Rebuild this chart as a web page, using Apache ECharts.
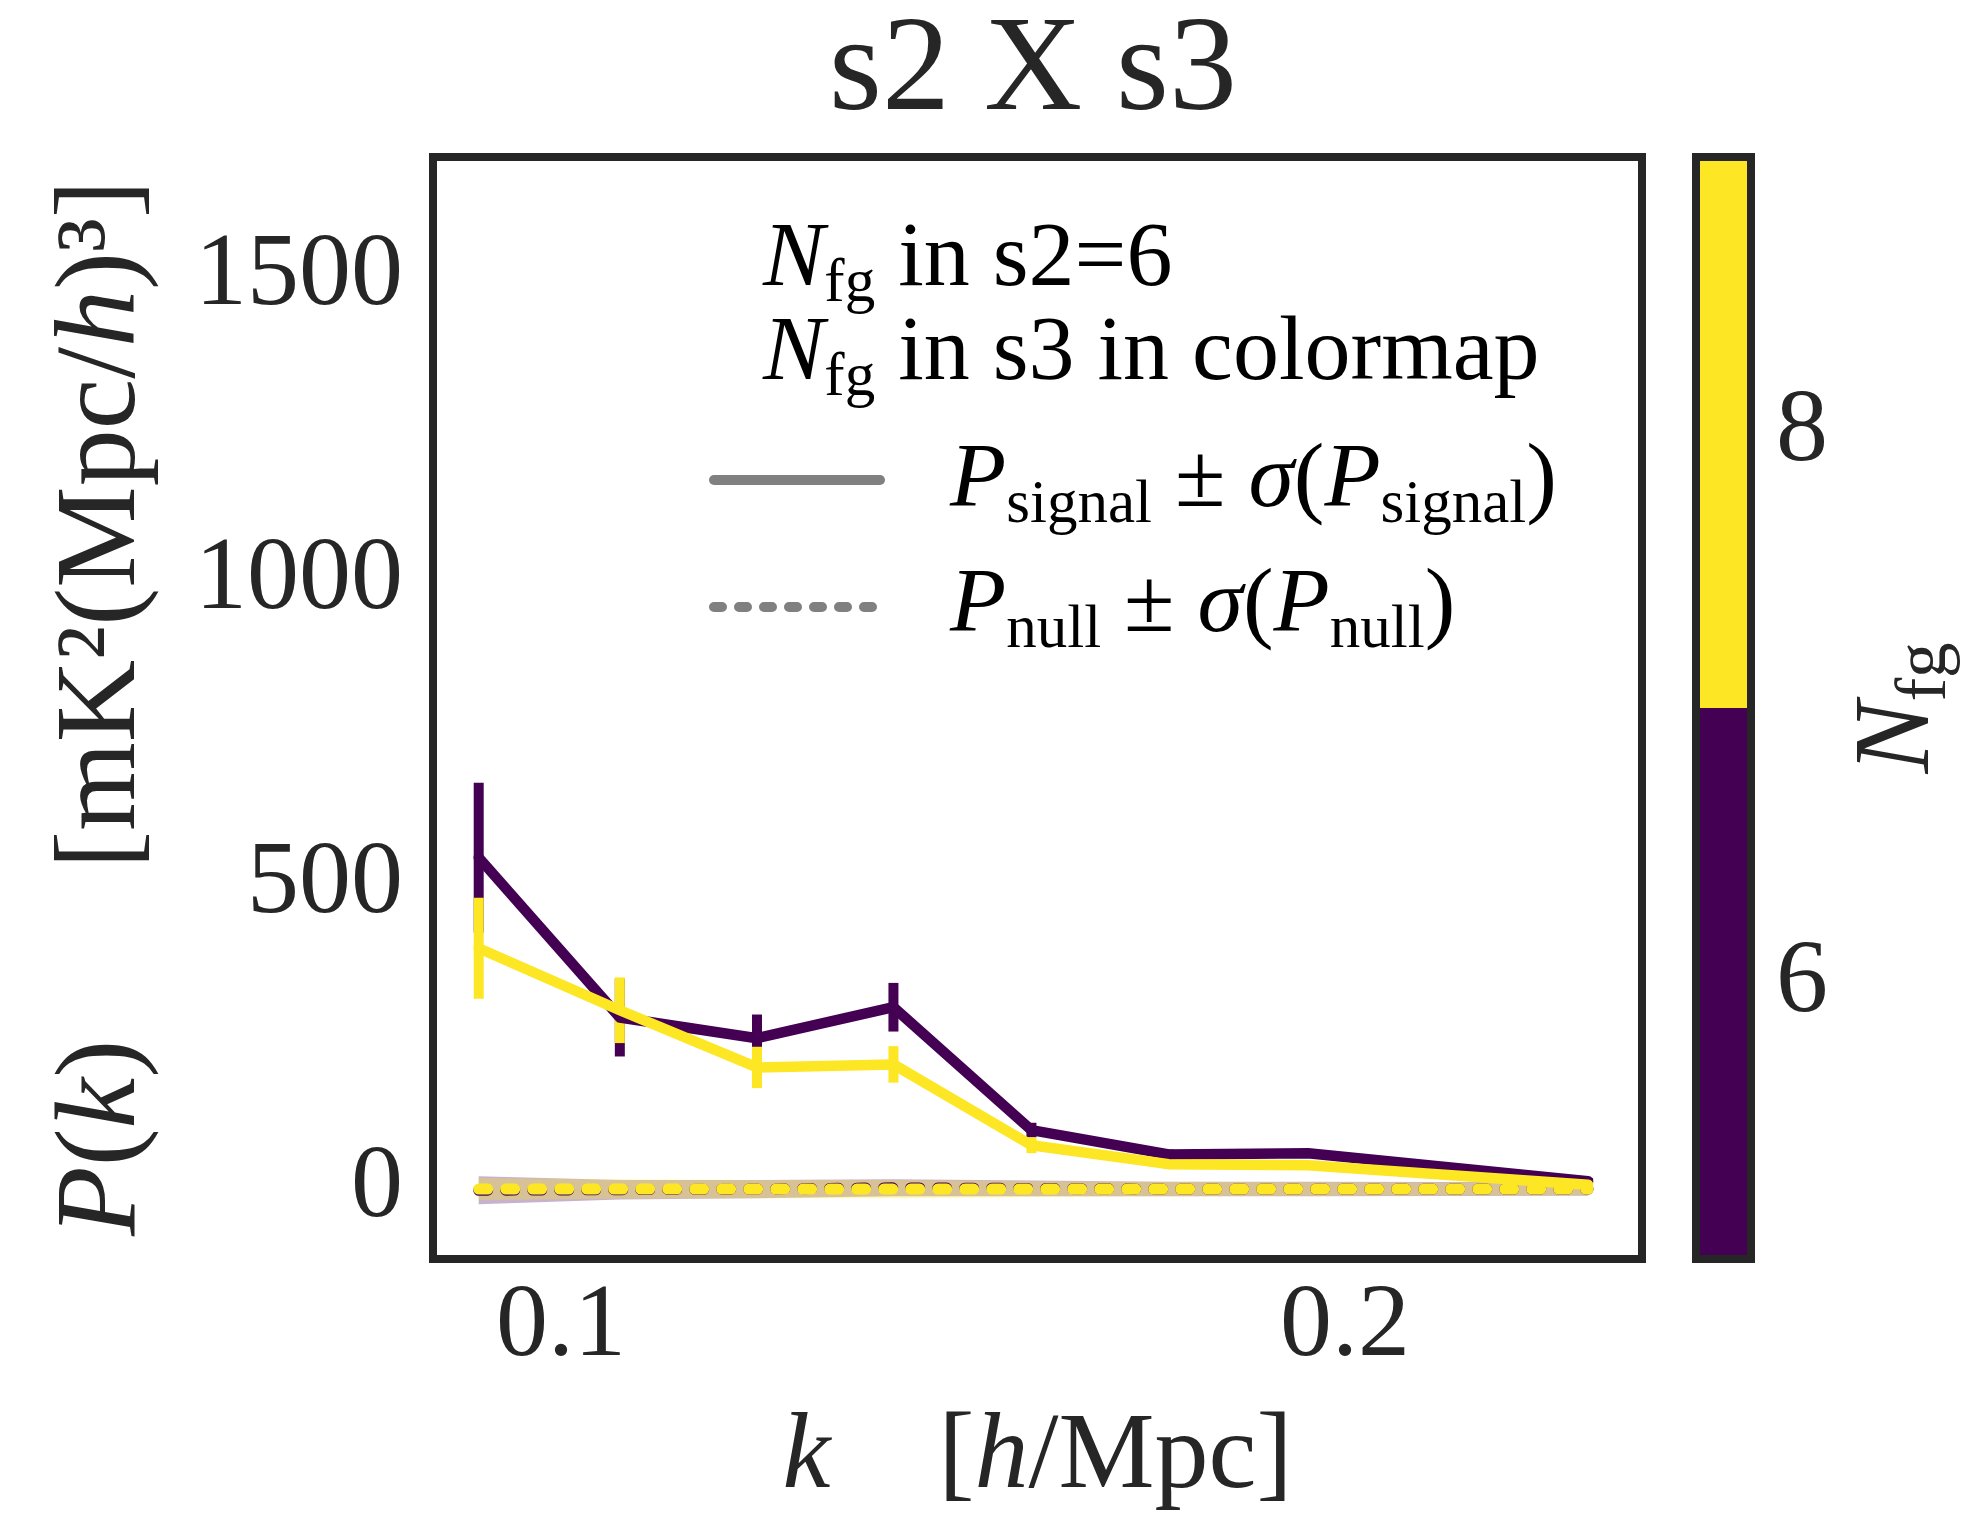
<!DOCTYPE html>
<html><head><meta charset="utf-8">
<script src="https://cdn.jsdelivr.net/npm/echarts@6/dist/echarts.min.js"></script>
<style>html,body{margin:0;padding:0;background:#fff}#c{width:1972px;height:1521px}</style>
</head><body><div id="c"></div>
<script>
// ---- data ----
const kValues      = [0.0895, 0.1075, 0.1250, 0.1424, 0.1600, 0.1775, 0.1953, 0.2310];
const signalN6     = [545, 282, 248, 299, 97, 57, 59, 13];
const sigmaSigN6   = [123, 64, 39, 40, 12, 8, 7, 5];
const signalN8     = [396, 294, 200, 205, 72, 41, 39, 7];
const sigmaSigN8   = [83, 54, 34, 30, 13, 8, 7, 5];
const nullN6       = [-2, -1, 0, 2, 1, 0, 0, 0];
const sigmaNullN6  = [23, 16, 15, 14, 13, 12, 12, 11];
const nullN8       = [0, 0, 0, 0, 0, 0, 0, 0];
const sigmaNullN8  = [18, 16, 15, 15, 13, 12, 11, 10];
const xTickValues  = [0.1, 0.2];
const yTickValues  = [0, 500, 1000, 1500];
const cbarBounds   = [5, 7, 9];
const cbarTicks    = [6, 8];

// ---- styling ----
const C6 = '#440154', C8 = '#fde725', TXT = '#262626', GRAY = '#808080';
const FAM = 'Liberation Serif';

function rich(F) {
  return {
    n: {fontFamily: FAM, fontSize: F, lineHeight: F, verticalAlign: 'top', color: TXT},
    i: {fontFamily: FAM, fontSize: F, lineHeight: F, verticalAlign: 'top', fontStyle: 'italic', color: TXT},
    s: {fontFamily: FAM, fontSize: Math.round(0.66 * F), lineHeight: Math.round(0.66 * F),
        padding: [Math.round(0.42 * F), 0, 0, 0], verticalAlign: 'top', color: TXT}
  };
}

const pts = (ys) => kValues.map((k, i) => [k, ys[i]]);
const rangeData = (v, e) => kValues.map((k, i) => [k, v[i] - e[i], v[i] + e[i]]);

function errSeries(v, e, color) {
  return {
    type: 'custom', xAxisIndex: 0, yAxisIndex: 0, silent: true,
    data: rangeData(v, e), encode: {x: 0, y: [1, 2]},
    renderItem: function (params, api) {
      const a = api.coord([api.value(0), api.value(1)]);
      const b = api.coord([api.value(0), api.value(2)]);
      return {type: 'line', shape: {x1: a[0], y1: a[1], x2: b[0], y2: b[1]},
              style: {stroke: color, lineWidth: 10, lineCap: 'butt'}};
    }
  };
}
function lineSeries(v, color) {
  return {type: 'line', data: pts(v), showSymbol: false, symbol: 'none', silent: true,
          lineStyle: {color: color, width: 10.5, cap: 'round', join: 'round'}};
}
function bandSeries(v, e, fill) {
  return {
    type: 'custom', xAxisIndex: 0, yAxisIndex: 0, silent: true,
    data: rangeData(v, e), encode: {x: 0, y: [1, 2]},
    renderItem: function (params, api) {
      if (params.dataIndexInside !== 0) return null;
      const n = params.dataInsideLength;
      const upper = [], lower = [];
      for (let j = 0; j < n; j++) {
        upper.push(api.coord([api.value(0, j), api.value(2, j)]));
        lower.push(api.coord([api.value(0, j), api.value(1, j)]));
      }
      return {type: 'polygon', shape: {points: upper.concat(lower.reverse())},
              style: {fill: fill}};
    }
  };
}
function nullSeries(v, color) {
  return {type: 'line', data: pts(v), symbol: 'none', silent: true,
          lineStyle: {color: color, width: 11, type: [9, 18], cap: 'round', join: 'round'}};
}

const cbarColors = [C6, C8];
const cbarData = cbarColors.map((c, i) => [cbarBounds[i], cbarBounds[i + 1], i]);

const chart = echarts.init(document.getElementById('c'), null, {renderer: 'canvas'});
chart.setOption({
  animation: false,
  backgroundColor: '#ffffff',
  grid: [
    {left: 433, top: 157, width: 1209, height: 1102, show: true, borderWidth: 8,
     borderColor: TXT, backgroundColor: 'transparent', outerBoundsMode: 'none', containLabel: false},
    {left: 1696, top: 157, width: 55, height: 1102, show: true, borderWidth: 8,
     borderColor: TXT, backgroundColor: 'transparent', outerBoundsMode: 'none', containLabel: false}
  ],
  xAxis: [
    {type: 'value', gridIndex: 0, min: 0.08367, max: 0.23788,
     axisLine: {show: false}, axisTick: {show: false}, splitLine: {show: false},
     axisLabel: {customValues: xTickValues, formatter: (v) => v.toFixed(1), fontFamily: FAM,
                 fontSize: 104, lineHeight: 104, color: TXT, margin: 17},
     name: '{i|k}{n|    [}{i|h}{n|/Mpc]}', nameLocation: 'middle', nameGap: 146, nameMoveOverlap: false,
     nameTextStyle: {rich: rich(108)}},
    {type: 'value', gridIndex: 1, min: 0, max: 1, show: false}
  ],
  yAxis: [
    {type: 'value', gridIndex: 0, min: -115, max: 1697,
     axisLine: {show: false}, axisTick: {show: false}, splitLine: {show: false},
     axisLabel: {customValues: yTickValues, formatter: (v) => String(v), fontFamily: FAM,
                 fontSize: 104, lineHeight: 104, color: TXT, margin: 30},
     name: '{i|P}{n|(}{i|k}{n|)      [mK²(Mpc/}{i|h}{n|)³]}', nameLocation: 'middle', nameRotate: 90,
     nameGap: 272, nameMoveOverlap: false, nameTextStyle: {rich: rich(114)}},
    {type: 'value', gridIndex: 1, min: 5, max: 9, position: 'right',
     axisLine: {show: false}, axisTick: {show: false}, splitLine: {show: false},
     axisLabel: {customValues: cbarTicks, formatter: (v) => String(v), fontFamily: FAM,
                 fontSize: 104, lineHeight: 104, color: TXT, margin: 25},
     name: '{i|N}{s|fg}', nameLocation: 'middle', nameRotate: 90, nameGap: 95, nameMoveOverlap: false,
     nameTextStyle: {rich: rich(108)}}
  ],
  series: [
    lineSeries(signalN6, C6), errSeries(signalN6, sigmaSigN6, C6),
    bandSeries(nullN6, sigmaNullN6, 'rgba(68,1,84,0.3)'),
    nullSeries(nullN6, C6),
    lineSeries(signalN8, C8), errSeries(signalN8, sigmaSigN8, C8),
    bandSeries(nullN8, sigmaNullN8, 'rgba(253,231,37,0.3)'),
    nullSeries(nullN8, C8),
    {type: 'custom', xAxisIndex: 1, yAxisIndex: 1, silent: true, z: -1,
     data: cbarData, encode: {y: [0, 1]},
     renderItem: function (params, api) {
       const a = api.coord([0, api.value(1)]);
       const b = api.coord([1, api.value(0)]);
       return {type: 'rect', shape: {x: a[0], y: a[1], width: b[0] - a[0], height: b[1] - a[1]},
               style: {fill: cbarColors[api.value(2)]}};
     }}
  ],
  graphic: [
    {type: 'text', x: 1033, y: 5, style: {text: 's2 X s3', fontFamily: FAM, fontSize: 136,
      lineHeight: 136, fill: TXT, align: 'center', verticalAlign: 'top'}},
    {type: 'text', x: 763, y: 215, style: {text: '{i|N}{s|fg}{n| in s2=6}', rich: rich(92),
      align: 'left', verticalAlign: 'top'}},
    {type: 'text', x: 763, y: 309, style: {text: '{i|N}{s|fg}{n| in s3 in colormap}', rich: rich(92),
      align: 'left', verticalAlign: 'top'}},
    {type: 'line', shape: {x1: 714, y1: 480, x2: 880, y2: 480},
     style: {stroke: GRAY, lineWidth: 10, lineCap: 'round'}},
    {type: 'line', shape: {x1: 714, y1: 607, x2: 880, y2: 607},
     style: {stroke: GRAY, lineWidth: 10, lineCap: 'round', lineDash: [8, 17]}},
    {type: 'text', x: 950, y: 436, style: {text: '{i|P}{s|signal}{n| ± }{i|σ}{n|(}{i|P}{s|signal}{n|)}',
      rich: rich(92), align: 'left', verticalAlign: 'top'}},
    {type: 'text', x: 950, y: 561, style: {text: '{i|P}{s|null}{n| ± }{i|σ}{n|(}{i|P}{s|null}{n|)}',
      rich: rich(92), align: 'left', verticalAlign: 'top'}}
  ]
});
</script></body></html>
